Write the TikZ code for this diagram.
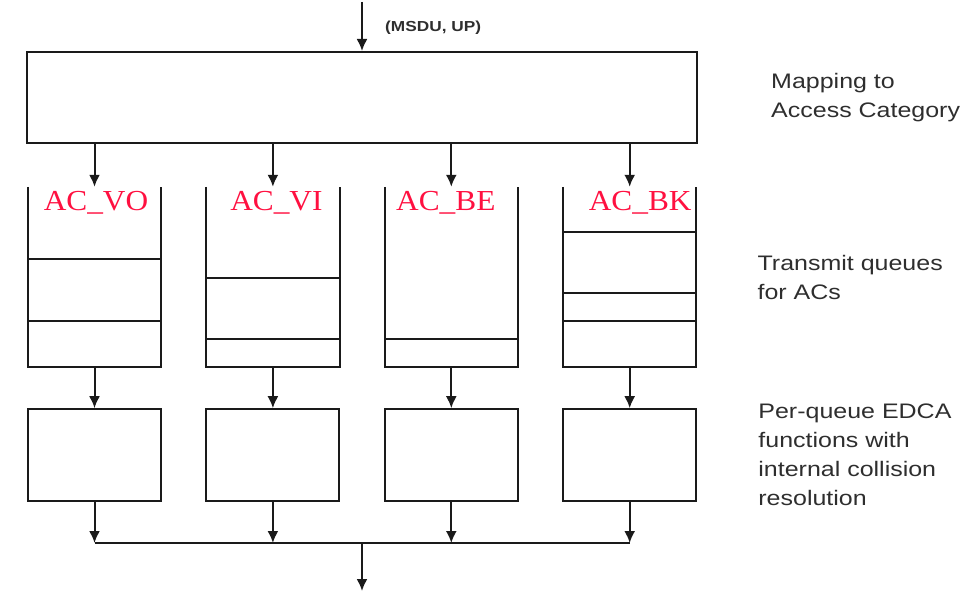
\documentclass[tikz,border=0pt]{standalone}
\usepackage{fontspec}
\usepackage{tikz}
\usetikzlibrary{
  arrows.meta,
  calc,
  positioning
}
\newfontfamily\sidefont[FakeStretch=1.19]{Liberation Sans}
\newfontfamily\acfont[FakeStretch=1.08]{Liberation Serif}
\definecolor{ink}{HTML}{1A1A1A}
\definecolor{note}{HTML}{2E2E2E}
\definecolor{acred}{HTML}{FF1040}
\newcommand{\queueline}[2]{%
  \draw[wall] ($(#1.south west)!#2!(#1.north west)$) -- ($(#1.south east)!#2!(#1.north east)$);}
\tikzset{
  flow/.style={
    -{Latex[length=12pt,width=11pt]},
    line width=2pt,
    draw=ink
  },
  wall/.style={
    line width=2pt,
    draw=ink
  },
  mapbox/.style={
    draw=ink,
    line width=2pt,
    minimum width=670pt,
    minimum height=91pt
  },
  queue/.style={
    minimum width=133pt,
    minimum height=180pt,
    inner sep=0pt
  },
  edca/.style={
    draw=ink,
    line width=2pt,
    minimum width=133pt,
    minimum height=92pt,
    inner sep=0pt
  },
  aclabel/.style={
    text=acred,
    font=\acfont\fontsize{29}{29}\selectfont,
    inner sep=0pt,
    anchor=base
  },
  sidenote/.style={
    text=note,
    font=\sidefont\fontsize{21}{29}\selectfont,
    align=left,
    inner sep=0pt
  },
  msdu/.style={
    text=note,
    font=\sidefont\bfseries\fontsize{14.5}{14.5}\selectfont,
    inner sep=0pt
  }
}

\begin{document}
\begin{tikzpicture}[x=1pt, y=-1pt]
  \useasboundingbox (0,0) rectangle (971,593);

  \node[mapbox] (map) at (362,97.5) {};
  \node[sidenote, right=73pt of map] {Mapping to\\Access Category};

  \coordinate (in) at (362,2);
  \node[msdu, above right=16pt and 23pt of map.north] (msdu) {(MSDU, UP)};

  % transmit queues
  \node[queue] (qvo) at (94.5,277) {};
  \node[queue, right=45pt of qvo] (qvi) {};
  \node[queue, right=45pt of qvi] (qbe) {};
  \node[queue, right=45pt of qbe] (qbk) {};
  \node[sidenote, right=61pt of qbk] {Transmit queues\\for ACs};

  \draw[wall] (qvo.north west) -- (qvo.south west) -- (qvo.south east) -- (qvo.north east);
  \draw[wall] (qvi.north west) -- (qvi.south west) -- (qvi.south east) -- (qvi.north east);
  \draw[wall] (qbe.north west) -- (qbe.south west) -- (qbe.south east) -- (qbe.north east);
  \draw[wall] (qbk.north west) -- (qbk.south west) -- (qbk.south east) -- (qbk.north east);

  \queueline{qvo}{0.6}
  \queueline{qvo}{0.256}
  \queueline{qvi}{0.494}
  \queueline{qvi}{0.156}
  \queueline{qbe}{0.156}
  \queueline{qbk}{0.75}
  \queueline{qbk}{0.411}
  \queueline{qbk}{0.256}

  \node[aclabel] (lvo) at ($(qvo.north)+(1.5,24)$) {AC\_VO};
  \node[aclabel] (lvi) at ($(qvi.north)+(3.5,24)$) {AC\_VI};
  \node[aclabel] (lbe) at ($(qbe.north)+(-5.5,24)$) {AC\_BE};
  \node[aclabel] (lbk) at ($(qbk.north)+(10.5,24)$) {AC\_BK};

  % EDCA functions
  \node[edca, below=41pt of qvo] (evo) {};
  \node[edca, below=41pt of qvi] (evi) {};
  \node[edca, below=41pt of qbe] (ebe) {};
  \node[edca, below=41pt of qbk] (ebk) {};
  \node[sidenote, right=61pt of ebk] {Per-queue EDCA\\functions with\\internal collision\\resolution};

  \coordinate (bus) at (362,543);
  \coordinate (out) at (362,591);

  \draw[flow] (in) -- (map.north);
  \draw[flow] (qvo.north |- map.south) -- (qvo.north);
  \draw[flow] (qvi.north |- map.south) -- (qvi.north);
  \draw[flow] (qbe.north |- map.south) -- (qbe.north);
  \draw[flow] (qbk.north |- map.south) -- (qbk.north);

  \draw[flow] (qvo.south) -- (evo.north);
  \draw[flow] (qvi.south) -- (evi.north);
  \draw[flow] (qbe.south) -- (ebe.north);
  \draw[flow] (qbk.south) -- (ebk.north);

  \draw[flow] (evo.south) -- (evo.south |- bus);
  \draw[flow] (evi.south) -- (evi.south |- bus);
  \draw[flow] (ebe.south) -- (ebe.south |- bus);
  \draw[flow] (ebk.south) -- (ebk.south |- bus);
  \draw[wall] (evo.south |- bus) -- (ebk.south |- bus);
  \draw[flow] (bus) -- (out);
\end{tikzpicture}
\end{document}
